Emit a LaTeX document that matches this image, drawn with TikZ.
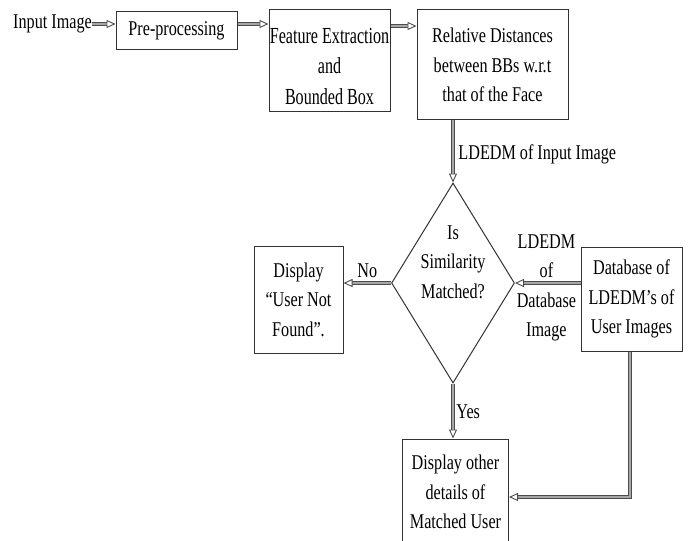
\documentclass[tikz,border=0pt]{standalone}
\usepackage{fontspec}
\setmainfont{Liberation Serif}[FakeStretch=0.77]
\newfontfamily\fefont{Liberation Serif}[FakeStretch=0.70]
\usetikzlibrary{shapes.geometric,arrows.meta}
\tikzset{
  box/.style={draw=black!80, line width=1pt, align=center, inner sep=0pt},
  flow/.style={draw=black!70, double=black!35, double distance=1.8pt, line width=0.9pt,
    -{Triangle[open, fill=white, length=9pt, width=8pt]}},
  lbl/.style={align=center, inner sep=0pt}
}
\begin{document}
\begin{tikzpicture}[x=1pt, y=-1pt, font=\fontsize{21}{29.5}\selectfont]
    \useasboundingbox (0,0) rectangle (692,540);
    \node (inp) [lbl] at (52.5,24) {Input Image};
    \node (pre) [box, minimum width=121pt, minimum height=38pt] at (176.5,31) {Pre-processing};
    \node (fe) [box, minimum width=121pt, minimum height=102pt] at (329.5,61) {};
    \node (fetxt) [lbl, font=\fefont\fontsize{23}{30.5}\selectfont] at (329.5,66) {Feature Extraction\\and\\Bounded Box};
    \node (rd) [box, minimum width=151pt, minimum height=110pt] at (492.5,65) {Relative Distances\\between BBs w.r.t\\that of the Face};
    \node (sim) [draw=black!80, line width=1pt, diamond, aspect=0.615, inner sep=0pt, minimum width=123pt, minimum height=200pt] at (453,283) {};
    \node (simtxt) [lbl] at (453,262) {Is\\Similarity\\Matched?};
    \node (nf) [box, minimum width=89pt, minimum height=107pt] at (298.5,299.5) {Display\\``User Not\\Found''.};
    \node (db) [box, minimum width=101pt, minimum height=104pt] at (631.5,299) {Database of\\LDEDM's of\\User Images};
    \node (mu) [box, minimum width=106pt, minimum height=106pt] at (455.5,492) {Display other\\details of\\Matched User};
    \draw[flow] (inp.east) -- (inp.east -| pre.west);
    \draw[flow] ([yshift=7pt]pre.east) coordinate (pa) -- (pa -| fe.west);
    \draw[flow] ([yshift=35pt]fe.east) coordinate (pb) -- (pb -| rd.west);
    \draw[flow] (sim |- rd.south) to node [right, lbl, xshift=5pt, yshift=-3pt, pos=0.5] {LDEDM of Input Image} (sim.north);
    \draw[flow] (sim.west) to node [above, lbl, yshift=5pt, pos=0.5] {No} (sim.west -| nf.east);
    \draw[flow] (db.west |- sim) to node [lbl, pos=0.52, yshift=-5pt] {LDEDM\\of\\Database\\Image} (sim.east);
    \draw[flow] (sim.south) to node [right, lbl, xshift=3pt, pos=0.52] {Yes} (sim.south |- mu.north);
    \draw[flow] ([xshift=-1.5pt]db.south) |- ([yshift=-5pt]mu.east);
\end{tikzpicture}
\end{document}
